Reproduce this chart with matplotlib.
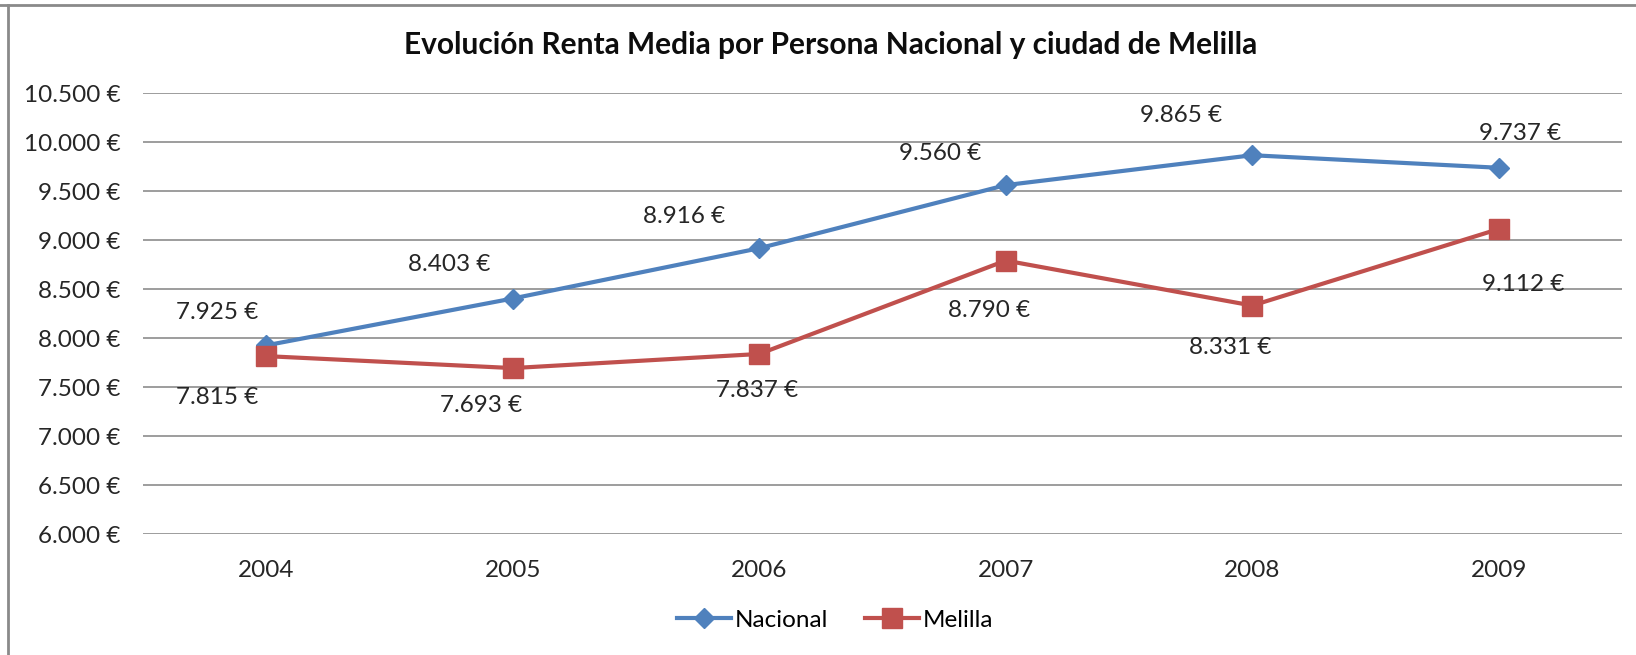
#!/usr/bin/env python3
"""
Evolucion de la renta media por persona, nacional frente a Melilla (2004-2009).
Excel-style line chart with data labels placed by hand.
"""
import matplotlib
matplotlib.use("Agg")
import matplotlib.pyplot as plt
from matplotlib.lines import Line2D
from matplotlib.ticker import FuncFormatter

plt.rc("font", family="Lato")

years = ["2004", "2005", "2006", "2007", "2008", "2009"]
nacional = [7925, 8403, 8916, 9560, 9865, 9737]
melilla = [7815, 7693, 7837, 8790, 8331, 9112]

# label offsets in pixels (x, y) relative to each point
nac_offsets = [(-49, 33), (-64, 34), (-75, 32), (-66, 32), (-71, 40), (21, 34)]
mel_offsets = [(-49, -41), (-32, -37), (-2, -37), (-17, -50), (-22, -42), (24, -55)]

blue = "#4F81BD"
red = "#C0504D"
grid_gray = "#8C8C8C"
text_col = "#262626"
fs = 17.5


def euro(v, pos=None):
    return f"{v:,.0f}".replace(",", ".") + " €"


W, H = 1636, 655
fig = plt.figure(figsize=(W / 100, H / 100), dpi=100)
ax = fig.add_axes([143 / W, 1 - 534 / H, (1622 - 143) / W, (534 - 93) / H])

x = list(range(len(years)))
ax.plot(x, nacional, color=blue, lw=3, marker="D", ms=10, label="Nacional", zorder=3)
ax.plot(x, melilla, color=red, lw=3, marker="s", ms=14, label="Melilla", zorder=3)

for xi, v, off in zip(x, nacional, nac_offsets):
    ax.annotate(euro(v), (xi, v), xytext=off, textcoords="offset pixels",
                ha="center", va="center", fontsize=fs, color=text_col)
for xi, v, off in zip(x, melilla, mel_offsets):
    ax.annotate(euro(v), (xi, v), xytext=off, textcoords="offset pixels",
                ha="center", va="center", fontsize=fs, color=text_col)

ax.set_xlim(-0.5, len(years) - 0.5)
ax.set_ylim(6000, 10500)
ax.set_yticks(range(6000, 10501, 500))
ax.yaxis.set_major_formatter(FuncFormatter(euro))
ax.set_xticks(x, years)
ax.tick_params(length=0, labelsize=fs, labelcolor=text_col)
ax.tick_params(axis="y", pad=16)
ax.tick_params(axis="x", pad=19)
ax.grid(axis="y", color=grid_gray, lw=1.2)
ax.set_axisbelow(True)
for s in ["top", "right", "left", "bottom"]:
    ax.spines[s].set_visible(False)

fig.text(831 / W, 1 - 45 / H, "Evolución Renta Media por Persona Nacional y ciudad de Melilla",
         ha="center", va="center", fontsize=21.5, fontweight="bold", color="#0d0d0d")

fig.legend(loc="center", bbox_to_anchor=(835 / W, 1 - 620 / H), ncol=2, frameon=False,
           fontsize=fs, handlelength=2.25, columnspacing=1.5, handletextpad=0.15)

# outer chart frame (only top and left visible in the crop)
fig.add_artist(Line2D([0, 1], [1 - 5 / H] * 2, color="#8a8a8a", lw=2, transform=fig.transFigure))
fig.add_artist(Line2D([8 / W] * 2, [0, 1 - 5 / H], color="#8a8a8a", lw=2, transform=fig.transFigure))

fig.savefig("out.png", dpi=100)
